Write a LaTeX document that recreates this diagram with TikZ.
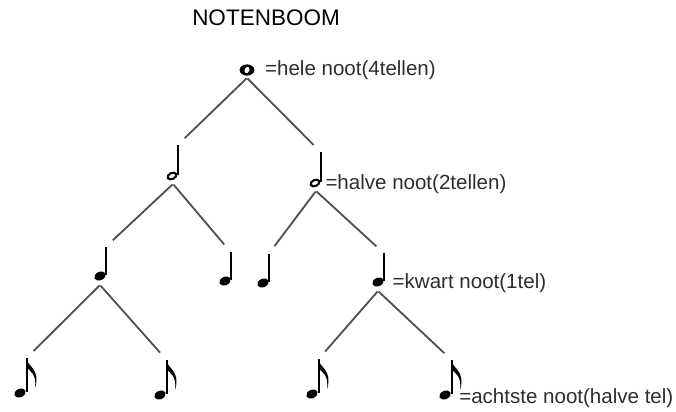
\documentclass[tikz,border=0pt]{standalone}
\usepackage{fontspec}
\setmainfont{Liberation Sans}
\usetikzlibrary{positioning}
\definecolor{branchgray}{RGB}{80,80,80}
\definecolor{labelgray}{RGB}{45,45,45}
\tikzset{
  branch/.style={draw=branchgray, line width=1.3pt, shorten >=7pt, shorten <=0.5pt},
  notelbl/.style={font=\fontsize{14.6}{17}\selectfont, text=labelgray, inner sep=0pt},
  titlelbl/.style={font=\fontsize{16}{19}\selectfont, inner sep=0pt},
  % notes, one pic per value
  wholenote/.pic={
    \fill (0,0) ellipse (7.4 and 5.6);
    \fill[white, rotate=-25] (0,0) ellipse (2.4 and 3.2);
    \coordinate (-foot) at (0,8);
    \coordinate (-east) at (8,0);
  },
  halfnote/.pic={
    \draw[line width=1.5pt, rotate=25] (0,0) ellipse (4.6 and 3);
    \draw[line width=1.4pt] (5.6,-1) -- (5.6,-31);
    \coordinate (-top) at (5.6,-31);
    \coordinate (-foot) at (1,8);
    \coordinate (-east) at (6,1);
  },
  quarternote/.pic={
    \fill[rotate=25] (0,0) ellipse (6 and 4.2);
    \draw[line width=1.4pt] (5.6,-1) -- (5.6,-29);
    \coordinate (-top) at (5.6,-29);
    \coordinate (-foot) at (0,9);
    \coordinate (-east) at (6,1);
  },
  eighthnote/.pic={
    \fill[rotate=25] (0,0) ellipse (6 and 4.2);
    \draw[line width=1.4pt] (6.6,-1) -- (6.6,-35);
    \fill (6,-35) .. controls (7,-27) and (21,-24) .. (15,-5)
      .. controls (17,-19) and (10,-22) .. (6,-26) -- cycle;
    \coordinate (-top) at (6.6,-35);
    \coordinate (-east) at (7,3);
  },
}
\begin{document}
\begin{tikzpicture}[x=0.025cm, y=-0.025cm]
  \useasboundingbox (0,0) rectangle (676,412);
  \node[titlelbl] (title) at (266,18) {NOTENBOOM};

  % tree of notes
  \pic (W) at (247,70) {wholenote};
  \pic (H1) at (172,176) {halfnote};
  \pic (H2) at (315,183) {halfnote};
  \pic (Q1) at (100,276) {quarternote};
  \pic (Q2) at (225,281) {quarternote};
  \pic (Q3) at (263,283) {quarternote};
  \pic (Q4) at (378,282) {quarternote};
  \pic (E1) at (20,393) {eighthnote};
  \pic (E2) at (160,395) {eighthnote};
  \pic (E3) at (312,394) {eighthnote};
  \pic (E4) at (445,395) {eighthnote};

  \draw[branch] (W-foot) -- (H1-top);
  \draw[branch] (W-foot) -- (H2-top);
  \draw[branch] (H1-foot) -- (Q1-top);
  \draw[branch] (H1-foot) -- (Q2-top);
  \draw[branch] (H2-foot) -- (Q3-top);
  \draw[branch] (H2-foot) -- (Q4-top);
  \draw[branch] (Q1-foot) -- (E1-top);
  \draw[branch] (Q1-foot) -- (E2-top);
  \draw[branch] (Q4-foot) -- (E3-top);
  \draw[branch] (Q4-foot) -- (E4-top);

  % labels
  \node[notelbl, right=7pt of W-east] (lblW) {=hele noot(4tellen)};
  \node[notelbl, right=3pt of H2-east] (lblH) {=halve noot(2tellen)};
  \node[notelbl, right=6pt of Q4-east] (lblQ) {=kwart noot(1tel)};
  \node[notelbl, right=5pt of E4-east] (lblE) {=achtste noot(halve tel)};
\end{tikzpicture}
\end{document}
